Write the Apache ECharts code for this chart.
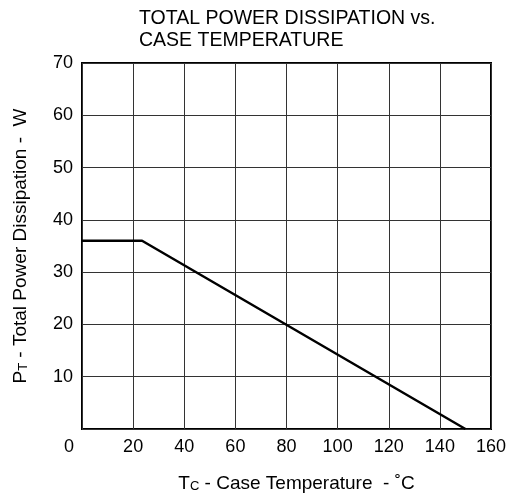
<!DOCTYPE html>
<html>
<head>
<meta charset="utf-8">
<script src="https://cdn.jsdelivr.net/npm/echarts@6/dist/echarts.min.js"></script>
<style>
  html, body { margin: 0; padding: 0; background: #fff; }
  #chart { width: 513px; height: 500px; }
</style>
</head>
<body>
<div id="chart"></div>
<script>
// Derating curve: case temperature (°C) vs. total power dissipation (W)
const caseTemp = [0, 23.5, 150];
const powerW = [36, 36, 0];

const xTicks = [0, 20, 40, 60, 80, 100, 120, 140, 160];
const yTicks = [0, 10, 20, 30, 40, 50, 60, 70];

const FONT = '"Liberation Sans", Arial, Helvetica, sans-serif';

const chart = echarts.init(document.getElementById('chart'), null, { renderer: 'canvas' });

chart.setOption({
  animation: false,
  backgroundColor: '#fff',
  textStyle: { fontFamily: FONT, color: '#000' },
  title: {
    text: 'TOTAL POWER DISSIPATION vs.\nCASE TEMPERATURE',
    left: 134,
    top: 3,
    textStyle: { fontFamily: FONT, fontSize: 19.5, fontWeight: 'normal', color: '#000', lineHeight: 22 }
  },
  grid: {
    left: 82, right: 22, top: 63, bottom: 71,
    show: true, borderColor: '#000', borderWidth: 2, backgroundColor: 'transparent'
  },
  xAxis: {
    type: 'value',
    min: xTicks[0],
    max: xTicks[xTicks.length - 1],
    interval: 20,
    axisLine: { show: false },
    axisTick: { show: false },
    splitLine: { show: true, lineStyle: { color: '#333', width: 1 } },
    axisLabel: {
      margin: 9,
      fontFamily: FONT, fontSize: 18, color: '#000',
      formatter: v => v === 0 ? '{z|0}' : String(v),
      rich: { z: { fontFamily: FONT, fontSize: 18, color: '#000', padding: [0, 26, 0, 0] } }
    },
    name: '{f|T}{s|C}{t| - Case Temperature  - ˚C}',
    nameLocation: 'middle',
    nameGap: 45,
    nameTextStyle: {
      rich: {
        f: { fontFamily: FONT, fontSize: 19, color: '#000', padding: [0, 0, 0, 20] },
        t: { fontFamily: FONT, fontSize: 19, color: '#000' },
        s: { fontFamily: FONT, fontSize: 13, color: '#000', verticalAlign: 'bottom' }
      }
    }
  },
  yAxis: {
    type: 'value',
    min: yTicks[0],
    max: yTicks[yTicks.length - 1],
    interval: 10,
    axisLine: { show: false },
    axisTick: { show: false },
    splitLine: { show: true, lineStyle: { color: '#333', width: 1 } },
    axisLabel: {
      margin: 9,
      fontFamily: FONT, fontSize: 18, color: '#000',
      formatter: v => v === 0 ? '' : String(v)
    },
    name: '{t|P}{s|T}{t| - Total Power Dissipation -  W}',
    nameLocation: 'middle',
    nameRotate: 90,
    nameGap: 52,
    nameTextStyle: {
      rich: {
        t: { fontFamily: FONT, fontSize: 19, color: '#000' },
        s: { fontFamily: FONT, fontSize: 13, color: '#000', verticalAlign: 'bottom' }
      }
    }
  },
  series: [{
    type: 'line',
    data: caseTemp.map((t, i) => [t, powerW[i]]),
    showSymbol: false,
    lineStyle: { color: '#000', width: 2.5 },
    z: 5
  }]
});
</script>
</body>
</html>
